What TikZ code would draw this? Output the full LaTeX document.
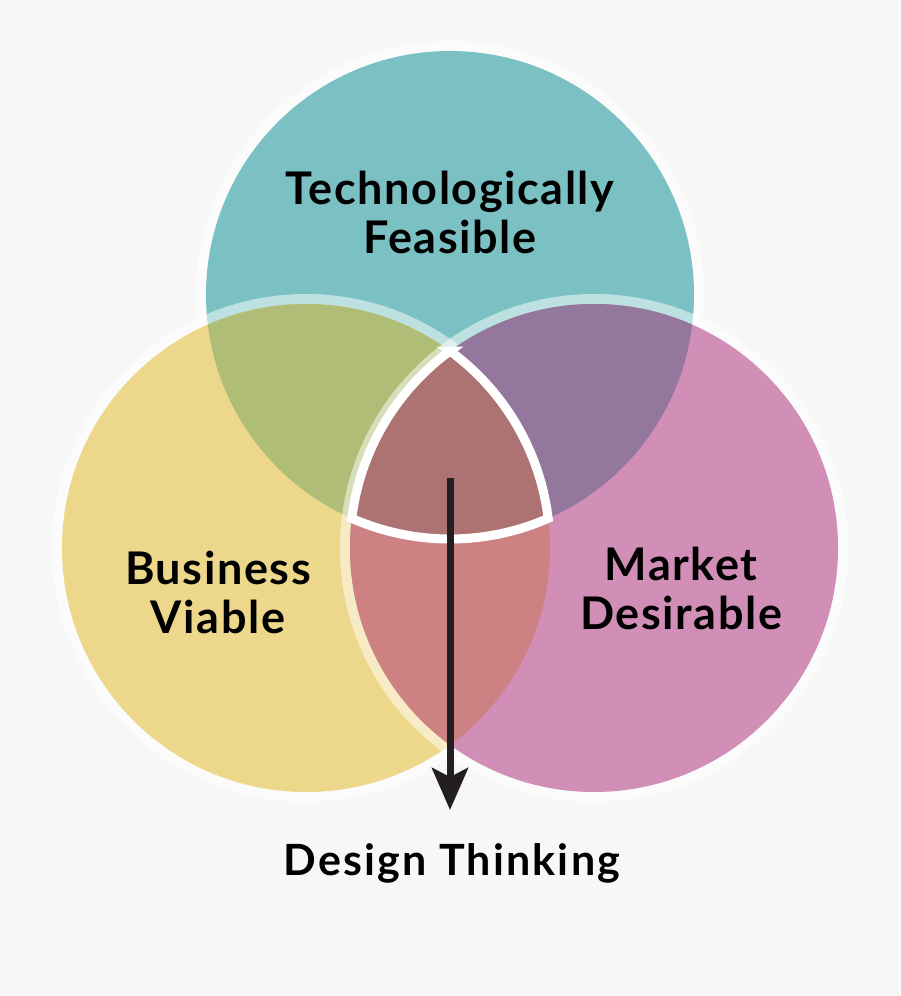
\documentclass[tikz,border=0pt]{standalone}
\usepackage{fontspec}
\setmainfont{Lato}
\newfontfamily\labfont[LetterSpace=3.5]{Lato}
\newfontfamily\dtfont[LetterSpace=5]{Lato}
\usetikzlibrary{arrows.meta}
\definecolor{bg}{HTML}{F7F7F7}
\definecolor{teal}{HTML}{7BC1C4}
\definecolor{yel}{HTML}{EDD78A}
\definecolor{grn}{HTML}{B0BD76}
\definecolor{pnk}{HTML}{D18EB7}
\definecolor{prp}{HTML}{93779D}
\definecolor{slm}{HTML}{CD8182}
\definecolor{ctr}{HTML}{AD7272}
\definecolor{ink}{HTML}{231F20}
\tikzset{
  halo/.style={draw=white, draw opacity=0.5, line width=10pt},
  lbl/.style={font=\labfont\fontsize{45}{49}\selectfont\bfseries, align=center, text=black, inner sep=0pt},
}
\begin{document}
\begin{tikzpicture}[x=1pt,y=-1pt]
\fill[bg] (0,0) rectangle (900,996);
\useasboundingbox (0,0) rectangle (900,996);
% teal (top)
\draw[halo] (450,295) circle[radius=249];
\fill[teal] (450,295) circle[radius=244];
% yellow (left)
\draw[halo] (306,548) circle[radius=249];
\fill[yel] (306,548) circle[radius=244];
\begin{scope}
  \clip (450,295) circle[radius=244];
  \fill[grn] (306,548) circle[radius=244];
\end{scope}
% pink (right)
\draw[halo] (594,548) circle[radius=249];
\fill[pnk] (594,548) circle[radius=244];
\begin{scope}
  \clip (594,548) circle[radius=244];
  \fill[prp] (450,295) circle[radius=244];
  \fill[slm] (306,548) circle[radius=244];
\end{scope}
% centre lens
\draw[fill=ctr, draw=white, line width=9pt, line join=miter, miter limit=20]
  (450,351) arc[start angle=233.83, end angle=186.97, radius=244]
  arc[start angle=113.73, end angle=66.27, radius=244]
  arc[start angle=-6.97, end angle=-53.83, radius=244] -- cycle;
% labels
\node[lbl] (tech) at (450,212) {Technologically\\Feasible};
\node[lbl] (bus) at (218,592) {Business\\Viable};
\node[lbl] (mkt) at (681,588) {Market\\Desirable};
\node[font=\dtfont\fontsize{43}{48}\selectfont\bfseries, text=black, inner sep=0pt, anchor=base] (dt) at (452,875) {Design Thinking};
% arrow
\coordinate (astart) at (450,478);
\coordinate (aend) at (450,810);
\draw[ink, line width=7pt, -{Stealth[length=42pt, width=36pt, inset=9pt]}] (astart) -- (aend);
\end{tikzpicture}
\end{document}
